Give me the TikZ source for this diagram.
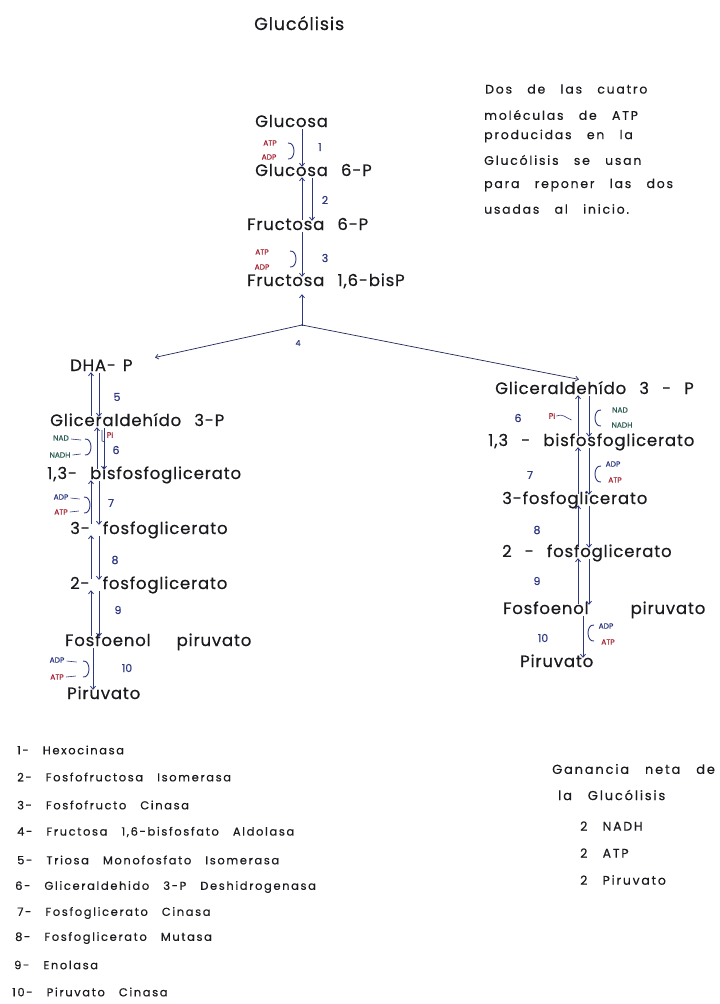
\documentclass[tikz,border=0pt]{standalone}
\usepackage{fontspec}
\setmainfont[LetterSpace=5,WordSpace=2.5,FakeBold=0.4]{Poppins}
\newfontfamily\wide[LetterSpace=14,WordSpace=3,FakeBold=0.3]{Poppins}
\newfontfamily\cofont[FakeBold=0.4]{Poppins}
\usetikzlibrary{arrows.meta,calc}
\definecolor{navy}{RGB}{45,55,130}
\definecolor{ink}{RGB}{25,25,30}
\definecolor{cofred}{RGB}{165,35,50}
\definecolor{cofgreen}{RGB}{45,95,85}
\begin{document}
\begin{tikzpicture}[x=1pt,y=-1pt,
  mol/.style={anchor=west, inner sep=0pt, text height=11pt, text depth=3pt,
    font=\fontsize{16.5}{19}\selectfont, text=ink},
  note/.style={anchor=west, inner sep=0pt, font=\wide\fontsize{12.5}{15}\selectfont, text=ink},
  leg/.style={anchor=west, inner sep=0pt, font=\wide\fontsize{11.5}{14}\selectfont, text=ink},
  num/.style={inner sep=0pt, font=\cofont\fontsize{11}{13}\selectfont, text=navy},
  cof/.style={inner sep=0pt, font=\cofont\fontsize{7.5}{9}\selectfont},
  arr/.style={draw=navy, line width=0.8pt, -{Straight Barb[length=3pt,width=5pt]},
    shorten >=-2pt, shorten <=-1pt},
  link/.style={draw=navy, line width=0.6pt},
  rpar/.pic={\draw[navy, line width=0.9pt] (-3,-8) .. controls (5,-9) and (5,9) .. (-3,8);},
  lpar/.pic={\draw[navy, line width=0.9pt] (4,-8) .. controls (-4,-9) and (-4,9) .. (4,8);}
]
\useasboundingbox (0,0) rectangle (720,1004);
\fill[white] (0,0) rectangle (720,1004);

% title
\node[mol, font=\fontsize{17.5}{20}\selectfont] (title) at (254,26) {Glucólisis};

% note
\node[note] (n1) at (485,89) {Dos de las cuatro};
\node[note] (n2) at (484,115) {moléculas de ATP};
\node[note] (n3) at (484,136) {producidas en la};
\node[note] (n4) at (484,160) {Glucólisis se usan};
\node[note] (n5) at (484,185) {para reponer las dos};
\node[note] (n6) at (484,209) {usadas al inicio.};

% top column
\node[mol] (glc) at (255,123) {Glucosa};
\node[mol] (g6p) at (255,172) {Glucosa 6-P};
\node[mol] (f6p) at (247,226) {Fructosa 6-P};
\node[mol] (fbp) at (247,282) {Fructosa 1,6-bisP};

\coordinate (T) at (302,0);
\coordinate (T2) at (312,0);
\draw[arr] (glc.south -| T) -- (g6p.north -| T);
\draw[arr] (f6p.north -| T) -- (g6p.south -| T);
\draw[arr] (g6p.south -| T2) -- (f6p.north -| T2);
\draw[arr] (f6p.south -| T) -- (fbp.north -| T);

\node[cof, text=cofred] (atp1) at (270,143) {ATP};
\node[cof, text=cofred] (adp1) at (269,157) {ADP};
\pic at (291,151) {rpar};
\node[num] (s1) at (320,147) {1};
\node[num] (s2) at (325,200) {2};
\node[cof, text=cofred] (atp3) at (262,252) {ATP};
\node[cof, text=cofred] (adp3) at (262,267) {ADP};
\pic at (293,259) {rpar};
\node[num] (s3) at (325,258) {3};

% split
\coordinate (j) at (302,325);
\coordinate (dtip) at (157,357);
\coordinate (gtip) at (577,379);
\draw[arr, shorten >=5pt] (j) -- (fbp.south -| j);
\draw[arr, draw=navy!70!black, line width=0.7pt] (j) -- (dtip);
\draw[arr, draw=navy!70!black, line width=0.7pt] (j) -- (gtip);
\node[num, font=\cofont\fontsize{8}{10}\selectfont] (s4) at (298,343) {4};

% left column
\node[mol] (dhap) at (70,367) {DHA-\hspace{7pt}P};
\node[mol] (lgap) at (50,422) {Gliceraldehído 3-P};
\node[mol] (lbpg) at (47,475) {1,3- bisfosfoglicerato};
\node[mol] (l3pg) at (70,530) {3- fosfoglicerato};
\node[mol] (l2pg) at (70,585) {2- fosfoglicerato};
\node[mol] (lpep) at (65,642) {Fosfoenol\hspace{26pt}piruvato};
\node[mol] (lpyr) at (67,695) {Piruvato};

\coordinate (L1) at (91,0);
\coordinate (L2) at (99,0);
\coordinate (L3) at (97,0);
\coordinate (L4) at (104,0);
\coordinate (L5) at (93,0);
% 5
\draw[arr] (lgap.north -| L1) -- (dhap.south -| L1);
\draw[arr] (dhap.south -| L2) -- (lgap.north -| L2);
\node[num] (s5) at (117,397) {5};
% 6
\draw[arr] (lbpg.north -| L3) -- (lgap.south -| L3);
\draw[arr] (lgap.south -| L4) -- (lbpg.north -| L4);
\node[cof, text=cofgreen] (nad6) at (61,438) {NAD};
\node[cof, text=cofgreen] (nadh6) at (60,455) {NADH};
\draw[link] (nad6.east) ++(2,1) -- ++(10,1);
\draw[link] (nadh6.east) ++(2,0) -- ++(8,-1);
\pic at (88,447) {rpar};
\draw[link] (102,430) -- (102,441) -- (105,442);
\node[cof, text=cofred, font=\cofont\fontsize{8}{10}\selectfont] (pi6) at (110,435) {P\scriptsize i};
\node[num] (s6) at (116,450) {6};
% 7
\draw[arr] (l3pg.north -| L1) -- (lbpg.south -| L1);
\draw[arr] (lbpg.south -| L2) -- (l3pg.north -| L2);
\node[cof, text=navy] (adp7) at (61,497) {ADP};
\node[cof, text=cofred] (atp7) at (61,512) {ATP};
\draw[link] (adp7.east) ++(2,1) -- ++(9,1);
\draw[link] (atp7.east) ++(2,0) -- ++(9,-1);
\pic at (87,505) {rpar};
\node[num] (s7) at (111,503) {7};
% 8
\draw[arr] (l2pg.north -| L1) -- (l3pg.south -| L1);
\draw[arr] (l3pg.south -| L2) -- (l2pg.north -| L2);
\node[num] (s8) at (115,560) {8};
% 9
\draw[arr] (lpep.north -| L1) -- (l2pg.south -| L1);
\draw[arr] (l2pg.south -| L2) -- (lpep.north -| L2);
\node[num] (s9) at (118,610) {9};
% 10
\draw[arr] (lpep.south -| L5) -- (lpyr.north -| L5);
\node[cof, text=navy] (adp10) at (57,660) {ADP};
\node[cof, text=cofred] (atp10) at (57,677) {ATP};
\draw[link] (adp10.east) ++(2,1) -- ++(10,1);
\draw[link] (atp10.east) ++(2,0) -- ++(10,-1);
\pic at (86,669) {rpar};
\node[num] (s10) at (127,668) {10};

% right column
\node[mol] (rgap) at (495,390) {Gliceraldehído 3 - P};
\node[mol] (rbpg) at (488,442) {1,3 - bisfosfoglicerato};
\node[mol] (r3pg) at (502,500) {3-fosfoglicerato};
\node[mol] (r2pg) at (502,553) {2 - fosfoglicerato};
\node[mol] (rpep) at (503,610) {Fosfoenol\hspace{42pt}piruvato};
\node[mol] (rpyr) at (520,663) {Piruvato};

\coordinate (R1) at (578,0);
\coordinate (R2) at (589,0);
\coordinate (R3) at (583,0);
% 6
\draw[arr] (rbpg.north -| R1) -- (rgap.south -| R1);
\draw[arr] (rgap.south -| R2) -- (rbpg.north -| R2);
\node[num] (r6) at (518,418) {6};
\node[cof, text=cofred, font=\cofont\fontsize{8}{10}\selectfont] (rpi6) at (552,416) {P\scriptsize i};
\draw[link] (rpi6.east) ++(1,0) .. controls ++(6,-3) and ++(-5,-2) .. ++(15,4);
\pic at (597,418) {lpar};
\node[cof, text=cofgreen] (rnad6) at (620,410) {NAD};
\node[cof, text=cofgreen] (rnadh6) at (622,425) {NADH};
% 7
\draw[arr] (r3pg.north -| R1) -- (rbpg.south -| R1);
\draw[arr] (rbpg.south -| R2) -- (r3pg.north -| R2);
\node[num] (r7) at (530,475) {7};
\pic at (597,474) {lpar};
\node[cof, text=navy] (radp7) at (613,464) {ADP};
\node[cof, text=cofred] (ratp7) at (615,480) {ATP};
% 8
\draw[arr] (r2pg.north -| R1) -- (r3pg.south -| R1);
\draw[arr] (r3pg.south -| R2) -- (r2pg.north -| R2);
\node[num] (r8) at (537,530) {8};
% 9
\draw[arr] (rpep.north -| R1) -- (r2pg.south -| R1);
\draw[arr] (r2pg.south -| R2) -- (rpep.north -| R2);
\node[num] (r9) at (537,581) {9};
% 10
\draw[arr] (rpep.south -| R3) -- (rpyr.north -| R3);
\pic at (590,633) {lpar};
\node[cof, text=navy] (radp10) at (606,626) {ADP};
\node[cof, text=cofred] (ratp10) at (608,642) {ATP};
\node[num] (r10) at (543,638) {10};

% legend
\node[leg] (e1) at (17,750) {1- Hexocinasa};
\node[leg] (e2) at (17,777) {2- Fosfofructosa Isomerasa};
\node[leg] (e3) at (17,805) {3- Fosfofructo Cinasa};
\node[leg] (e4) at (17,832) {4- Fructosa 1,6-bisfosfato Aldolasa};
\node[leg] (e5) at (17,860) {5- Triosa Monofosfato Isomerasa};
\node[leg] (e6) at (15,887) {6- Gliceraldehido 3-P Deshidrogenasa};
\node[leg] (e7) at (17,913) {7- Fosfoglicerato Cinasa};
\node[leg] (e8) at (15,938) {8- Fosfoglicerato Mutasa};
\node[leg] (e9) at (14,965) {9- Enolasa};
\node[leg] (e10) at (12,992) {10- Piruvato Cinasa};

% net gain
\node[note, font=\wide\fontsize{13}{15}\selectfont] (g1) at (552,769) {Ganancia neta de};
\node[note, font=\wide\fontsize{13}{15}\selectfont] (g2) at (558,795) {la Glucólisis};
\node[note] (g3) at (580,826) {2 NADH};
\node[note] (g4) at (580,853) {2 ATP};
\node[note] (g5) at (580,880) {2 Piruvato};
\end{tikzpicture}
\end{document}
